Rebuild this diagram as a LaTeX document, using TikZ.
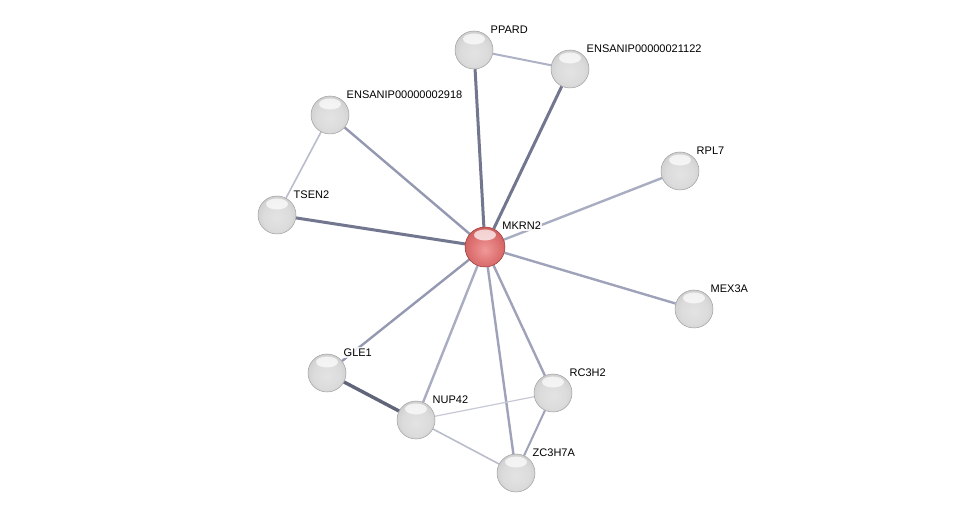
\documentclass[tikz,border=0pt]{standalone}
\usepackage{fontspec}
\setmainfont{Liberation Sans}
\usetikzlibrary{backgrounds}

\definecolor{edgedark}{HTML}{72778F}
\definecolor{edgemid}{HTML}{9499B1}
\definecolor{edgelight}{HTML}{B9BDCC}
\definecolor{redA}{HTML}{F09898}
\definecolor{redB}{HTML}{DE7272}
\definecolor{redC}{HTML}{C85656}
\definecolor{redD}{HTML}{9A3636}
\pgfdeclareradialshading{greyball}{\pgfpoint{0bp}{-4bp}}{color(0bp)=(gray!22); color(18bp)=(gray!28); color(30bp)=(gray!40); color(38bp)=(gray!55); color(44bp)=(gray!70); color(60bp)=(gray!80)}
\pgfdeclareradialshading{redball}{\pgfpoint{0bp}{-4bp}}{color(0bp)=(redA); color(18bp)=(redB); color(32bp)=(redC); color(42bp)=(redD); color(60bp)=(redD)}

\begin{document}
\begin{tikzpicture}[
    x=1pt, y=-1pt,
    sphere/.style={circle, minimum size=38pt, inner sep=0pt, draw=gray!75, line width=0.5pt, shading=greyball,
      path picture={\fill[white, opacity=0.7] ([yshift=-8pt]path picture bounding box.north) ellipse (11pt and 5.5pt);}},
    hub/.style={sphere, minimum size=40pt, draw=redD, shading=redball},
    lbl/.style={font=\fontsize{11}{13}\selectfont, inner sep=1.5pt, label distance=2pt, fill=white, fill opacity=0.85, text opacity=1},
    strong/.style={draw=edgedark, line width=3pt},
    medium/.style={draw=edgemid, line width=2.4pt},
    weak/.style={draw=edgelight, line width=1.6pt}
]
    \useasboundingbox (0,0) rectangle (975,518);

    \node[hub, label={[lbl]45:MKRN2}] (mkrn2) at (485,247) {};
    \node[sphere, label={[lbl]45:PPARD}] (ppard) at (474,50) {};
    \node[sphere, label={[lbl]45:ENSANIP00000021122}] (ens21122) at (570,69) {};
    \node[sphere, label={[lbl]45:ENSANIP00000002918}] (ens2918) at (330,115) {};
    \node[sphere, label={[lbl]45:RPL7}] (rpl7) at (680,171) {};
    \node[sphere, label={[lbl]45:TSEN2}] (tsen2) at (277,215) {};
    \node[sphere, label={[lbl]45:MEX3A}] (mex3a) at (694,309) {};
    \node[sphere, label={[lbl]45:GLE1}] (gle1) at (327,373) {};
    \node[sphere, label={[lbl]45:RC3H2}] (rc3h2) at (553,393) {};
    \node[sphere, label={[lbl]45:NUP42}] (nup42) at (416,420) {};
    \node[sphere, label={[lbl]45:ZC3H7A}] (zc3h7a) at (516,473) {};

    \begin{scope}[on background layer]
        \fill[white] (0,0) rectangle (975,518);
        % links of the hub
        \draw[strong] (mkrn2) -- (ppard);
        \draw[strong] (mkrn2) -- (ens21122);
        \draw[strong] (mkrn2) -- (tsen2);
        \draw[medium] (mkrn2) -- (ens2918);
        \draw[medium] (mkrn2) -- (gle1);
        \draw[medium, draw=edgemid!80!white] (mkrn2) -- (rpl7);
        \draw[medium, draw=edgemid!90!white] (mkrn2) -- (mex3a);
        \draw[medium, draw=edgemid!80!white] (mkrn2) -- (nup42);
        \draw[medium, draw=edgemid!90!white] (mkrn2) -- (rc3h2);
        \draw[medium, draw=edgemid!90!white] (mkrn2) -- (zc3h7a);
        % other links
        \draw[strong, draw=edgedark!85!black, line width=3.4pt] (gle1) -- (nup42);
        \draw[medium, draw=edgemid!75!white, line width=2pt] (ppard) -- (ens21122);
        \draw[weak] (ens2918) -- (tsen2);
        \draw[medium, draw=edgemid!90!white, line width=2pt] (rc3h2) -- (zc3h7a);
        \draw[weak, line width=1.2pt, draw=edgelight!80!white] (nup42) -- (rc3h2);
        \draw[weak] (nup42) -- (zc3h7a);
    \end{scope}
\end{tikzpicture}
\end{document}
